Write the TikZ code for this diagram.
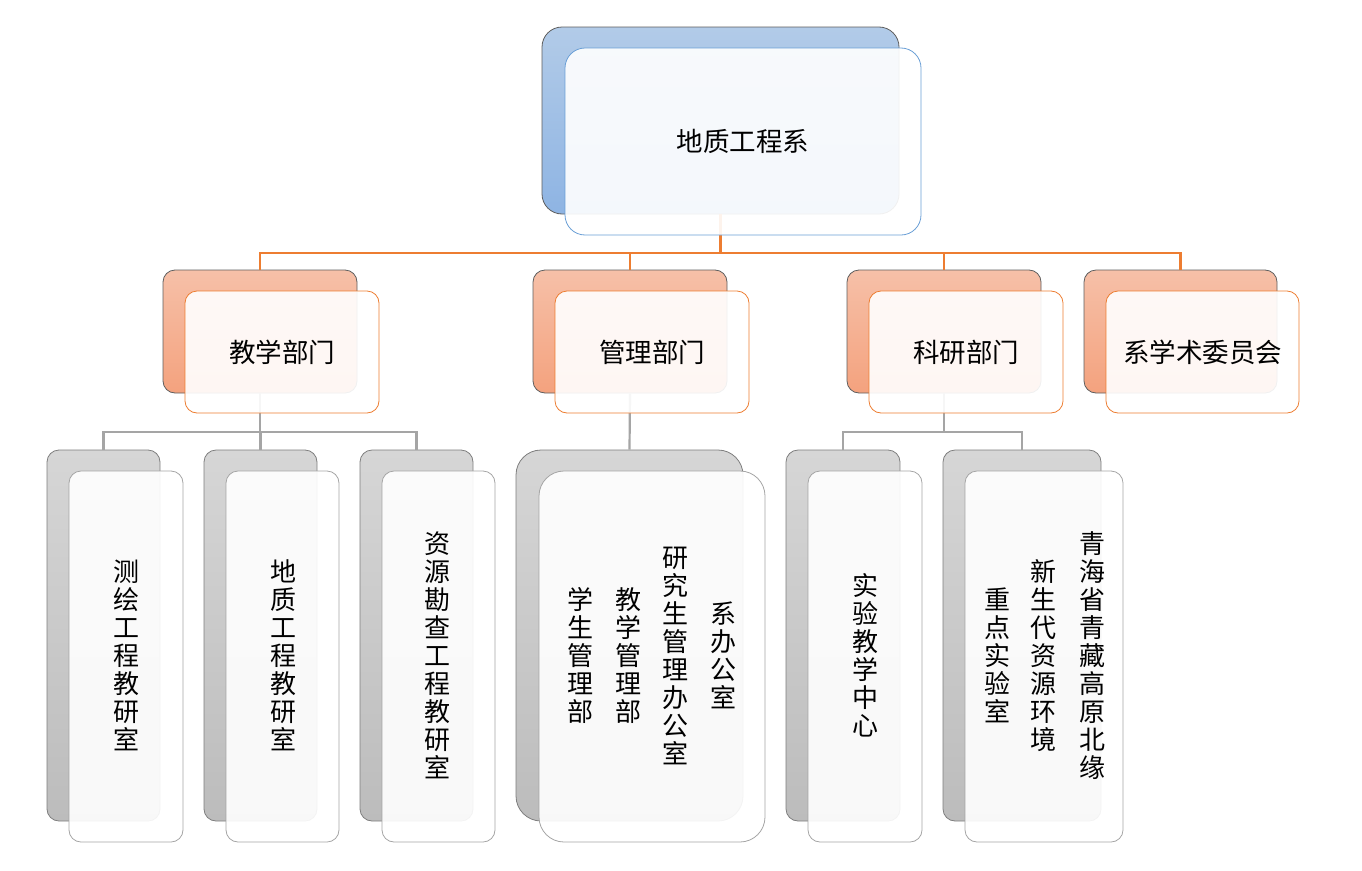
\documentclass[tikz,border=0pt]{standalone}
\usepackage{fontspec}
\newfontfamily\cjk{Noto Sans CJK SC}
\definecolor{bTop}{HTML}{B2CBE8}
\definecolor{bBot}{HTML}{8EB4E3}
\definecolor{bLine}{HTML}{6A9FD6}
\definecolor{oTop}{HTML}{F6C0A8}
\definecolor{oBot}{HTML}{F4A27E}
\definecolor{oLine}{HTML}{ED7D31}
\definecolor{gTop}{HTML}{D6D6D6}
\definecolor{gBot}{HTML}{BCBCBC}
\definecolor{gLine}{HTML}{A5A5A5}
\definecolor{edgeDark}{HTML}{5E5E5E}
\tikzset{
  box/.style={rectangle, inner sep=0pt, line width=0.8pt},
  frontbox/.style={box, fill=white, fill opacity=0.91, text opacity=1},
  backB/.style={box, draw=edgeDark, top color=bTop, bottom color=bBot, rounded corners=20pt},
  frontB/.style={frontbox, draw=bLine, rounded corners=20pt},
  backO/.style={box, draw=edgeDark, top color=oTop, bottom color=oBot, rounded corners=12pt},
  frontO/.style={frontbox, draw=oLine, rounded corners=12pt},
  backG/.style={box, draw=edgeDark!80, top color=gTop, bottom color=gBot, rounded corners=12pt},
  frontG/.style={frontbox, draw=gLine, rounded corners=12pt},
  conO/.style={draw=oLine, line width=2.2pt},
  conG/.style={draw=gLine, line width=2.2pt},
  txt/.style={font=\cjk\fontsize{26.5}{28}\selectfont, text=black, align=center},
  vcol/.style={font=\cjk\fontsize{26}{28}\selectfont, text=black, align=center, inner sep=0pt},
}
\begin{document}
\begin{tikzpicture}[x=1pt,y=-1pt]
\useasboundingbox (0,0) rectangle (1362,870);
% back boxes
\node[backB, minimum width=357, minimum height=187] (b0) at (720.5,120.5) {};
\node[backO, minimum width=194, minimum height=123] (b1) at (260,331.5) {};
\node[backO, minimum width=194, minimum height=123] (b2) at (630,331.5) {};
\node[backO, minimum width=194, minimum height=123] (b3) at (944,331.5) {};
\node[backO, minimum width=193, minimum height=123] (b4) at (1180.5,331.5) {};
\node[backG, minimum width=113, minimum height=371] (c1) at (103.5,635.5) {};
\node[backG, minimum width=113, minimum height=371] (c2) at (260.5,635.5) {};
\node[backG, minimum width=113, minimum height=371] (c3) at (416.5,635.5) {};
\node[backG, minimum width=227, minimum height=371, rounded corners=25pt] (c4) at (629.5,635.5) {};
\node[backG, minimum width=114, minimum height=371] (c5) at (843,635.5) {};
\node[backG, minimum width=158, minimum height=371] (c6) at (1022,635.5) {};
% connectors
\coordinate (j0) at (720.5,253);
\draw[conO] (b0.south) -- (j0);
\draw[conO] (j0) -| (b1.north);
\draw[conO] (j0) -| (b2.north);
\draw[conO] (j0) -| (b3.north);
\draw[conO] (j0) -| (b4.north);
\coordinate (j1) at (260,432);
\draw[conG] (b1.south) -- (j1);
\draw[conG] (j1) -| (c1.north);
\draw[conG] (j1) -| (c2.north);
\draw[conG] (j1) -| (c3.north);
\draw[conG] (b2.south) -- (c4.north);
\coordinate (j3) at (944,432);
\draw[conG] (b3.south) -- (j3);
\draw[conG] (j3) -| (c5.north);
\draw[conG] (j3) -| (c6.north);
% front boxes
\node[frontB, txt, minimum width=356, minimum height=187] (f0) at (743,141.5) {地质工程系};
\node[frontO, txt, minimum width=194, minimum height=122] (f1) at (282,352) {教学部门};
\node[frontO, txt, minimum width=194, minimum height=122] (f2) at (652,352) {管理部门};
\node[frontO, txt, minimum width=194, minimum height=122] (f3) at (966,352) {科研部门};
\node[frontO, txt, minimum width=193, minimum height=122] (f4) at (1202.5,352) {系学术委员会};
\node[frontG, minimum width=114, minimum height=371] (g1) at (126,656.5) {};
\node[frontG, minimum width=113, minimum height=371] (g2) at (282.5,656.5) {};
\node[frontG, minimum width=113, minimum height=371] (g3) at (438.5,656.5) {};
\node[frontG, minimum width=226, minimum height=371, rounded corners=25pt] (g4) at (652,656.5) {};
\node[frontG, minimum width=114, minimum height=371] (g5) at (865,656.5) {};
\node[frontG, minimum width=158, minimum height=371] (g6) at (1044,656.5) {};
% vertical texts
\node[vcol] (t1) at (126,655) {测\\绘\\工\\程\\教\\研\\室};
\node[vcol] (t2) at (283,655) {地\\质\\工\\程\\教\\研\\室};
\node[vcol] (t3) at (437,655) {资\\源\\勘\\查\\工\\程\\教\\研\\室};
\node[vcol] (t4a) at (723,655.5) {系\\办\\公\\室};
\node[vcol] (t4b) at (675,655.5) {研\\究\\生\\管\\理\\办\\公\\室};
\node[vcol] (t4c) at (628,655.5) {教\\学\\管\\理\\部};
\node[vcol] (t4d) at (580,655.5) {学\\生\\管\\理\\部};
\node[vcol] (t5) at (865,655.5) {实\\验\\教\\学\\中\\心};
\node[vcol] (t6a) at (1092,655.5) {青\\海\\省\\青\\藏\\高\\原\\北\\缘};
\node[vcol] (t6b) at (1043,655.5) {新\\生\\代\\资\\源\\环\\境};
\node[vcol] (t6c) at (997,655.5) {重\\点\\实\\验\\室};
\end{tikzpicture}
\end{document}
